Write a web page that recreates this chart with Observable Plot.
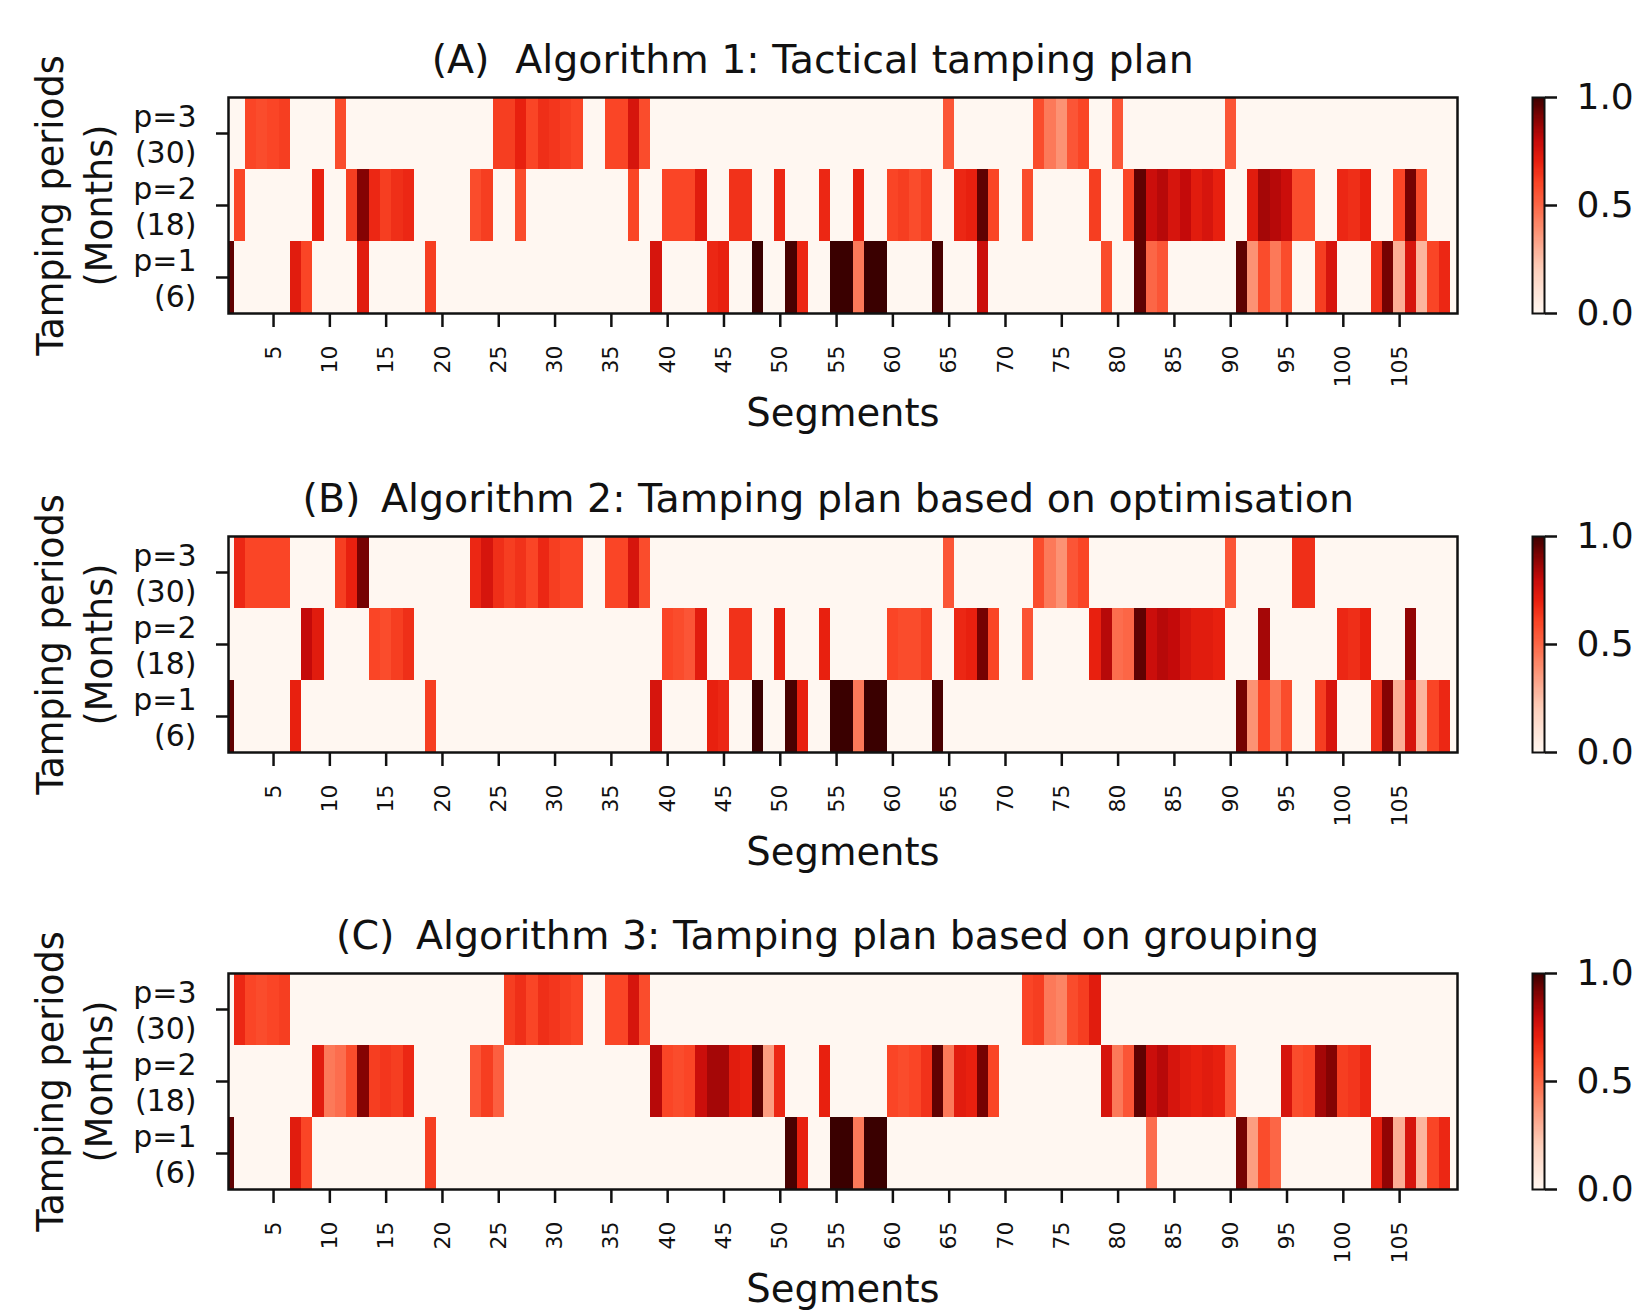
<!DOCTYPE html>
<html>
<head>
<meta charset="utf-8">
<script src="https://cdn.jsdelivr.net/npm/d3@7"></script>
<script src="https://cdn.jsdelivr.net/npm/@observablehq/plot@0.6"></script>
<style>
  body { margin: 0; background: #fff; }
  #fig { position: relative; width: 1636px; height: 1312px; overflow: hidden; background: #fff; font-family: "DejaVu Sans", sans-serif; }
  .abs { position: absolute; }
  .abs svg { overflow: visible; }
</style>
</head>
<body>
<div id="fig"></div>
<script>
// ---------------- data ----------------
const segments = d3.range(1, 111);             // segment columns (last column is empty)
const rowKeys = ["p3", "p2", "p1"];
const rowLabels = ["p=3\n(30)", "p=2\n(18)", "p=1\n(6)"];
const xTicks = [5, 10, 15, 20, 25, 30, 35, 40, 45, 50, 55, 60, 65, 70, 75, 80, 85, 90, 95, 100, 105];
const panelLetters = ["(A)", "(B)", "(C)"];
const panelTitles = [
  "Algorithm 1: Tactical tamping plan",
  "Algorithm 2: Tamping plan based on optimisation",
  "Algorithm 3: Tamping plan based on grouping"
];
const xLabel = "Segments";
const yLabel = "Tamping periods\n(Months)";
const colorbarTicks = [0, 0.5, 1];

// [segment, value] for non-zero cells
const A_p3 = [[3,.6],[4,.58],[5,.6],[6,.62],[11,.58],[25,.62],[26,.62],[27,.7],[28,.6],[29,.66],[30,.64],[31,.62],[32,.6],
  [35,.6],[36,.6],[37,.75],[38,.58],[65,.55],[73,.58],[74,.45],[75,.38],[76,.55],[77,.6],[80,.55],[90,.55]];
const A_p2 = [[2,.6],[9,.7],[12,.62],[13,.9],[14,.68],[15,.62],[16,.66],[17,.68],[23,.58],[24,.62],[27,.58],[37,.6],
  [40,.6],[41,.6],[42,.6],[43,.72],[46,.65],[47,.65],[50,.68],[54,.68],[57,.7],[60,.6],[61,.62],[62,.58],[63,.62],
  [66,.68],[67,.7],[68,.95],[69,.6],[72,.58],[78,.62],[81,.6],[82,.95],[83,.78],[84,.82],[85,.75],[86,.8],[87,.72],
  [88,.75],[89,.7],[92,.72],[93,.85],[94,.82],[95,.78],[96,.58],[97,.58],[100,.68],[101,.66],[102,.7],[105,.6],[106,.92],[107,.58]];
const A_p1 = [[1,.95],[7,.72],[8,.6],[13,.72],[19,.62],[39,.75],[44,.68],[45,.7],[48,1],[51,.98],[52,.68],[55,1],[56,1],
  [57,.45],[58,1],[59,1],[64,.98],[68,.78],[79,.58],[82,.95],[83,.5],[84,.55],[91,.95],[92,.38],[93,.58],[94,.45],[95,.58],
  [98,.62],[99,.75],[103,.66],[104,.92],[105,.3],[106,.75],[107,.28],[108,.6],[109,.68]];

const B_p3 = [[2,.68],[3,.6],[4,.6],[5,.6],[6,.6],[11,.62],[12,.7],[13,.92],[23,.68],[24,.75],[25,.66],[26,.62],[27,.65],
  [28,.6],[29,.68],[30,.62],[31,.6],[32,.6],[35,.6],[36,.6],[37,.75],[38,.58],[65,.55],[73,.58],[74,.45],[75,.38],[76,.55],
  [77,.6],[90,.55],[96,.66],[97,.66]];
const B_p2 = [[8,.8],[9,.72],[14,.6],[15,.58],[16,.62],[17,.66],[40,.6],[41,.58],[42,.55],[43,.72],[46,.65],[47,.65],[50,.7],
  [54,.7],[60,.6],[61,.58],[62,.58],[63,.62],[66,.68],[67,.7],[68,.92],[69,.6],[72,.56],[78,.7],[79,.82],[80,.48],[81,.5],
  [82,.95],[83,.78],[84,.82],[85,.8],[86,.75],[87,.72],[88,.72],[89,.7],[93,.85],[100,.68],[101,.66],[102,.7],[106,.88]];
const B_p1 = [[1,.95],[7,.7],[19,.62],[39,.75],[44,.7],[45,.68],[48,1],[51,.98],[52,.7],[55,1],[56,1],[57,.45],[58,1],[59,1],
  [64,.98],[91,.92],[92,.38],[93,.6],[94,.45],[95,.58],[98,.62],[99,.75],[103,.66],[104,.9],[105,.3],[106,.75],[107,.28],
  [108,.6],[109,.68]];

const C_p3 = [[2,.68],[3,.6],[4,.58],[5,.6],[6,.62],[26,.62],[27,.66],[28,.6],[29,.66],[30,.64],[31,.62],[32,.6],[35,.6],
  [36,.6],[37,.75],[38,.58],[72,.6],[73,.62],[74,.45],[75,.42],[76,.58],[77,.62],[78,.72]];
const C_p2 = [[9,.72],[10,.45],[11,.48],[12,.58],[13,.9],[14,.62],[15,.64],[16,.62],[17,.68],[23,.55],[24,.62],[25,.52],
  [39,.82],[40,.6],[41,.58],[42,.6],[43,.78],[44,.85],[45,.85],[46,.72],[47,.7],[48,.95],[49,.35],[50,.68],[54,.7],
  [60,.6],[61,.58],[62,.6],[63,.65],[64,.95],[65,.45],[66,.72],[67,.7],[68,.92],[69,.6],[79,.75],[80,.45],[81,.55],
  [82,.95],[83,.78],[84,.82],[85,.75],[86,.72],[87,.7],[88,.72],[89,.7],[90,.55],[95,.75],[96,.58],[97,.6],[98,.85],
  [99,.9],[100,.62],[101,.64],[102,.68]];
const C_p1 = [[1,.95],[7,.72],[8,.6],[19,.62],[51,.98],[52,.7],[55,1],[56,1],[57,.45],[58,1],[59,1],[83,.48],[91,.92],
  [92,.35],[93,.58],[94,.5],[103,.7],[104,.88],[105,.3],[106,.75],[107,.28],[108,.6],[109,.68]];

const panelRows = [[A_p3, A_p2, A_p1], [B_p3, B_p2, B_p1], [C_p3, C_p2, C_p1]];

// ---------------- style ----------------
const cmapStops  = [0, 0.2, 0.3, 0.4, 0.5, 0.6, 0.7, 0.8, 0.9, 1.0];
const cmapColors = ["#fff7f1", "#fdd0bc", "#fcae95", "#fc8b6c", "#fc6646", "#fa4526", "#e8200f", "#c40a0a", "#850303", "#3a0000"];
const colorScale = {type: "linear", domain: cmapStops, range: cmapColors, interpolate: "rgb", clamp: true};
const ink = "#111";
const panelTops = [0, 439, 876];
const W = 1636, H = 436, mT = 97, mB = 123, mL = 228, mR = 179;
const xDomain = [1, 110.14];
const letterRight = [489, 360, 394];
const titleCenter = [854, 867, 867];

const fig = document.getElementById("fig");

panelRows.forEach((rows, p) => {
  const grid = [];
  rows.forEach((pairs, r) => {
    const m = new Map(pairs);
    for (const s of segments) grid.push({seg: s, row: rowKeys[r], value: m.get(s) ?? 0});
  });

  const chart = Plot.plot({
    width: W, height: H,
    marginLeft: mL, marginRight: mR, marginTop: mT, marginBottom: mB,
    style: {fontFamily: "DejaVu Sans, sans-serif", color: ink, background: "transparent", overflow: "visible"},
    x: {domain: xDomain, axis: null},
    y: {domain: rowKeys, axis: null, padding: 0},
    color: colorScale,
    marks: [
      Plot.barX(grid, {x1: d => d.seg - 0.5, x2: d => d.seg + 0.5, y: "row", fill: "value", clip: true, shapeRendering: "crispEdges"}),
      Plot.frame({stroke: ink, strokeWidth: 2.5}),
      Plot.axisX({ticks: xTicks, tickSize: 14, tickPadding: 18, tickRotate: -90, fontSize: 22, strokeWidth: 2.5, label: null}),
      Plot.axisY({tickSize: 12, tickFormat: () => "", strokeWidth: 2.5, label: null}),
      Plot.text(rowKeys, {y: d => d, text: (d, i) => rowLabels[i], frameAnchor: "left", dx: -32, textAnchor: "end", lineHeight: 1.2, fontSize: 30, fill: ink}),
      Plot.text([xLabel], {frameAnchor: "bottom", dy: 112, lineAnchor: "bottom", textAnchor: "middle", fontSize: 38.5, fill: ink}),
      Plot.text([yLabel], {frameAnchor: "left", rotate: -90, dx: -157, lineHeight: 1.36, textAnchor: "middle", lineAnchor: "middle", fontSize: 36.5, fill: ink}),
      Plot.text([panelLetters[p]], {frameAnchor: "top-left", dx: letterRight[p] - mL, dy: -25, lineAnchor: "bottom", textAnchor: "end", fontSize: 39.5, fill: ink}),
      Plot.text([panelTitles[p]], {frameAnchor: "top-left", dx: titleCenter[p] - mL, dy: -25, lineAnchor: "bottom", textAnchor: "middle", fontSize: 39.5, fill: ink})
    ]
  });
  const holder = document.createElement("div");
  holder.className = "abs";
  holder.style.left = "0px";
  holder.style.top = panelTops[p] + "px";
  holder.appendChild(chart);
  fig.appendChild(holder);

  // colorbar
  const steps = d3.range(0, 1, 0.005);
  const cbar = Plot.plot({
    width: 116, height: H,
    marginLeft: 12, marginRight: 92, marginTop: mT, marginBottom: mB,
    style: {fontFamily: "DejaVu Sans, sans-serif", color: ink, background: "transparent", overflow: "visible"},
    x: {axis: null},
    y: {domain: [0, 1], axis: null},
    color: colorScale,
    marks: [
      Plot.rect(steps, {y1: d => d, y2: d => d + 0.005, fill: d => d + 0.0025, shapeRendering: "crispEdges"}),
      Plot.frame({stroke: ink, strokeWidth: 2}),
      Plot.axisY({anchor: "right", ticks: colorbarTicks, tickFormat: d3.format(".1f"), tickSize: 12, tickPadding: 20, fontSize: 36, strokeWidth: 2.5, label: null})
    ]
  });
  const cb = document.createElement("div");
  cb.className = "abs";
  cb.style.left = "1520px";
  cb.style.top = panelTops[p] + "px";
  cb.appendChild(cbar);
  fig.appendChild(cb);
});
</script>
</body>
</html>
